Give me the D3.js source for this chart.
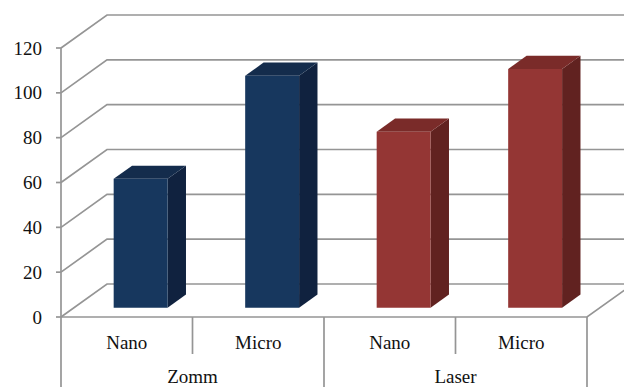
<!DOCTYPE html>
<html>
<head>
<meta charset="utf-8">
<script src="https://cdn.jsdelivr.net/npm/d3@7"></script>
<style>
  html, body { margin: 0; padding: 0; background: #fff; }
  svg text { font-family: "Liberation Serif", "Times New Roman", serif; font-size: 19px; fill: #111; }
</style>
</head>
<body>
<div id="chart"></div>
<script>
const groups = ['Zomm', 'Laser']
const categories = ['Nano', 'Micro']
const zommValues = [57.5, 103.5]
const laserValues = [78.5, 106.5]
const yTicks = [0, 20, 40, 60, 80, 100, 120]
const groupColors = {
  Zomm: {front: '#17375e', side: '#10223f', top: '#142c4c'},
  Laser: {front: '#943634', side: '#612220', top: '#7a2b29'}
}

const rows = []
groups.forEach((g, gi) => {
  const vals = gi === 0 ? zommValues : laserValues
  categories.forEach((c, ci) => rows.push({group: g, cat: c, key: g + '-' + c, value: vals[ci]}))
})

const W = 624, H = 387
const left = 61, right = 587
const depthX = 46, depthY = -33
const barD0 = 0.28, barD1 = 0.68

const svg = d3.select('#chart').append('svg')
  .attr('width', W).attr('height', H)

const x = d3.scaleBand().domain(rows.map(d => d.key)).range([left, right])
const xGroup = d3.scaleBand().domain(groups).range([left, right])
const y = d3.scaleLinear().domain([0, 120]).range([317, 48])

// project a point on the floor/plane at depth d (0 = front, 1 = back)
const px = (sx, d) => sx + depthX * d
const py = (sy, d) => sy + depthY * d

const grid = svg.append('g')
  .attr('fill', 'none').attr('stroke', '#959595').attr('stroke-width', 1.7)

grid.selectAll('path.grid').data(yTicks).enter().append('path')
  .attr('class', 'grid')
  .attr('d', t => `M${left},${y(t)}L${px(left, 1)},${py(y(t), 1)}L${W + 10},${py(y(t), 1)}`)

// floor front edge and right edge
grid.append('path')
  .attr('d', `M${left},${y(0)}L${right},${y(0)}L${px(right, 1)},${py(y(0), 1)}`)

// vertical value axis
grid.append('line')
  .attr('x1', left).attr('x2', left).attr('y1', y(120)).attr('y2', H)

// y ticks
grid.selectAll('line.tick').data(yTicks).enter().append('line')
  .attr('class', 'tick')
  .attr('x1', left - 5).attr('x2', left).attr('y1', t => y(t)).attr('y2', t => y(t))

// category dividers
const inner = rows.filter(d => d.cat === categories[1]).map(d => x(d.key))
grid.selectAll('line.inner').data(inner).enter().append('line')
  .attr('class', 'inner')
  .attr('x1', d => d).attr('x2', d => d).attr('y1', y(0)).attr('y2', 354)
const outer = groups.map(g => xGroup(g) + xGroup.bandwidth())
grid.selectAll('line.outer').data(outer).enter().append('line')
  .attr('class', 'outer')
  .attr('x1', d => d).attr('x2', d => d).attr('y1', y(0)).attr('y2', H)

svg.selectAll('text.ylab').data(yTicks).enter().append('text')
  .attr('class', 'ylab')
  .attr('x', 42).attr('y', t => y(t)).attr('dy', '0.35em')
  .attr('text-anchor', 'end')
  .text(t => t)

svg.selectAll('text.cat').data(rows).enter().append('text')
  .attr('class', 'cat')
  .attr('x', d => x(d.key) + x.bandwidth() / 2)
  .attr('y', 349)
  .attr('text-anchor', 'middle')
  .text(d => d.cat)

svg.selectAll('text.grp').data(groups).enter().append('text')
  .attr('class', 'grp')
  .attr('x', g => xGroup(g) + xGroup.bandwidth() / 2)
  .attr('y', 383)
  .attr('text-anchor', 'middle')
  .text(g => g)

// 3D bars
const bw = x.bandwidth() * 0.41
const bars = svg.selectAll('g.bar').data(rows).enter().append('g').attr('class', 'bar')

const corners = d => {
  const x0 = x(d.key) + (x.bandwidth() - bw) / 2 + 1, x1 = x0 + bw
  const yb = y(0), yt = y(d.value)
  return {x0, x1, yb, yt}
}

bars.append('path')
  .attr('fill', d => groupColors[d.group].side)
  .attr('d', d => {
    const c = corners(d)
    return `M${px(c.x1, barD0)},${py(c.yt, barD0)}L${px(c.x1, barD1)},${py(c.yt, barD1)}` +
      `L${px(c.x1, barD1)},${py(c.yb, barD1)}L${px(c.x1, barD0)},${py(c.yb, barD0)}Z`
  })

bars.append('path')
  .attr('fill', d => groupColors[d.group].top)
  .attr('d', d => {
    const c = corners(d)
    return `M${px(c.x0, barD0)},${py(c.yt, barD0)}L${px(c.x0, barD1)},${py(c.yt, barD1)}` +
      `L${px(c.x1, barD1)},${py(c.yt, barD1)}L${px(c.x1, barD0)},${py(c.yt, barD0)}Z`
  })

bars.append('path')
  .attr('fill', d => groupColors[d.group].front)
  .attr('d', d => {
    const c = corners(d)
    return `M${px(c.x0, barD0)},${py(c.yt, barD0)}L${px(c.x1, barD0)},${py(c.yt, barD0)}` +
      `L${px(c.x1, barD0)},${py(c.yb, barD0)}L${px(c.x0, barD0)},${py(c.yb, barD0)}Z`
  })
</script>
</body>
</html>
